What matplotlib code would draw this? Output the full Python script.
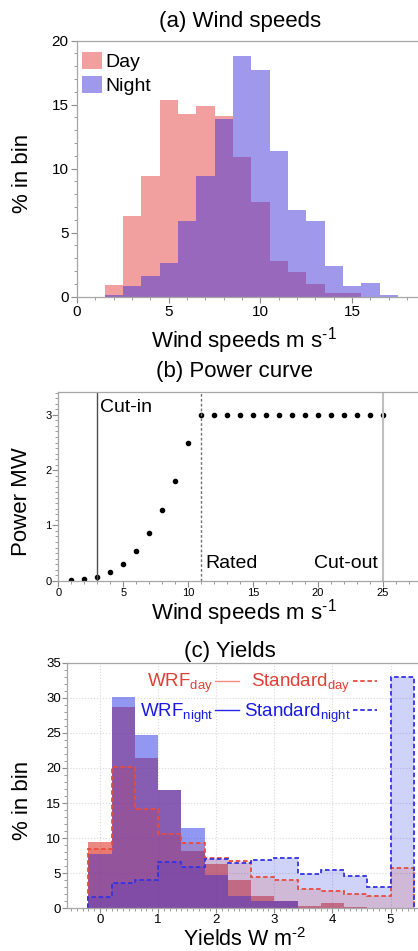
import matplotlib

matplotlib.use("Agg")
import matplotlib.pyplot as plt
from matplotlib.lines import Line2D
from matplotlib.patches import Patch
from matplotlib.ticker import MultipleLocator
import numpy as np

plt.rcParams['font.family'] = ['Liberation Sans', 'DejaVu Sans']
plt.rcParams['mathtext.fontset'] = 'custom'
plt.rcParams['mathtext.rm'] = 'Liberation Sans'
plt.rcParams['mathtext.it'] = 'Liberation Sans:italic'
plt.rcParams['mathtext.default'] = 'regular'

# (a) wind speed histograms, one bin per integer speed
ws_bins = list(range(2, 18))
day_pct = [0.9, 6.3, 9.4, 15.4, 14.3, 14.9, 14.1, 10.9, 7.4, 2.8, 1.9, 1.0, 0.3, 0.3, 0.0, 0.0]
night_pct = [0.1, 0.85, 1.65, 2.6, 5.9, 9.45, 13.9, 18.8, 17.7, 11.4, 6.8, 5.9, 2.4, 0.85, 1.1, 0.15]

# (b) turbine power curve
pc_speed = list(range(1, 26))
pc_power = [0.01, 0.03, 0.07, 0.16, 0.31, 0.54, 0.86, 1.28, 1.81, 2.49,
            3.0, 3.0, 3.0, 3.0, 3.0, 3.0, 3.0, 3.0, 3.0, 3.0, 3.0, 3.0, 3.0, 3.0, 3.0]
cut_in, rated, cut_out = 3, 11, 25

# (c) yield histograms
yield_edges = [-0.2, 0.2, 0.6, 1.0, 1.4, 1.8, 2.2, 2.6, 3.0, 3.4, 3.8, 4.2, 4.6, 5.0, 5.4]
wrf_day = [9.5, 28.7, 21.4, 16.9, 8.2, 6.3, 4.1, 1.75, 1.05, 0.35, 0.75, 0.25, 0.0, 0.0]
wrf_night = [7.7, 30.1, 24.7, 16.8, 11.5, 4.75, 1.75, 1.05, 1.05, 0.05, 0.05, 0.0, 0.0, 0.0]
std_day = [8.4, 20.2, 14.2, 10.6, 9.3, 7.2, 6.75, 4.4, 4.1, 2.8, 2.4, 2.1, 1.8, 5.8]
std_night = [1.6, 3.6, 4.0, 6.55, 5.9, 7.0, 6.4, 6.9, 7.1, 4.9, 5.4, 4.65, 3.05, 33.0]

W, H = 418, 951
fig = plt.figure(figsize=(W / 100, H / 100), dpi=100)


def px(x, y):
    return x / W, 1 - y / H


def add_axes(left, top, bottom):
    x0, y0 = px(left, bottom)
    return fig.add_axes([x0, y0, 1 - x0, (bottom - top) / H])


def style(ax, size, pad=2, major=4):
    for s in ['left', 'top', 'bottom']:
        ax.spines[s].set_color('0.65')
        ax.spines[s].set_linewidth(0.9)
    ax.spines['right'].set_visible(False)
    ax.tick_params(which='both', direction='out', color='0.55', labelsize=size, pad=pad)
    ax.tick_params(which='major', length=major)
    ax.tick_params(which='minor', length=2)


red = (0.85, 0.15, 0.1)
blue = (0.15, 0.2, 0.9)

# ---- Panel A
ax1 = add_axes(77, 40.7, 296.7)
edges = np.array(ws_bins + [ws_bins[-1] + 1]) - 0.5
day_col = (0.9, 0.25, 0.25)
night_col = (0.25, 0.2, 0.85)
ax1.stairs(day_pct, edges, fill=True, color=day_col, alpha=0.5, lw=0)
ax1.stairs(night_pct, edges, fill=True, color=night_col, alpha=0.5, lw=0)
ax1.set_xlim(0, 18.6)
ax1.set_ylim(0, 20)
ax1.xaxis.set_major_locator(MultipleLocator(5))
ax1.xaxis.set_minor_locator(MultipleLocator(1))
ax1.yaxis.set_major_locator(MultipleLocator(5))
ax1.yaxis.set_minor_locator(MultipleLocator(1))
style(ax1, 11)
ax1.legend([Patch(facecolor=day_col, alpha=0.5), Patch(facecolor=night_col, alpha=0.5)],
           ['Day', 'Night'], loc='upper left', bbox_to_anchor=(0.015, 0.955),
           frameon=False, fontsize=14, handlelength=1.0, handleheight=0.95,
           handletextpad=0.2, labelspacing=0.25, borderpad=0, borderaxespad=0)

# ---- Panel B
ax2 = add_axes(58.3, 391.7, 580.7)
ax2.plot(pc_speed, pc_power, 'o', ms=3, color='black')
ax2.axvline(cut_in, color='0.3', lw=1)
ax2.axvline(rated, color='0.45', lw=1, ls=(0, (2, 1.5)))
ax2.axvline(cut_out, color='0.75', lw=1.5)
ax2.text(cut_in + 0.2, 3.05, 'Cut-in', fontsize=14)
ax2.text(rated + 0.35, 0.23, 'Rated', fontsize=14)
ax2.text(cut_out - 0.4, 0.23, 'Cut-out', fontsize=14, ha='right')
ax2.set_xlim(0, 27.7)
ax2.set_ylim(0, 3.42)
ax2.xaxis.set_major_locator(MultipleLocator(5))
ax2.xaxis.set_minor_locator(MultipleLocator(1))
ax2.yaxis.set_major_locator(MultipleLocator(1))
ax2.yaxis.set_minor_locator(MultipleLocator(0.1))
style(ax2, 8, pad=1)

# ---- Panel C
ax3 = add_axes(66.7, 662.7, 908.3)
ax3.grid(True, which='major', color='0.85', ls=':', lw=0.8)
ax3.set_axisbelow(True)
ax3.stairs(wrf_day, yield_edges, fill=True, color=red, alpha=0.55, lw=0)
ax3.stairs(wrf_night, yield_edges, fill=True, color=blue, alpha=0.5, lw=0)
ax3.stairs(std_night, yield_edges, fill=True, color=blue, alpha=0.22, lw=0)
ax3.stairs(std_day, yield_edges, fill=True, color=red, alpha=0.15, lw=0)
ax3.stairs(std_day, yield_edges, baseline=0, color=(0.9, 0.3, 0.25),
           lw=1.3, ls=(0, (2.5, 1.5)))
ax3.stairs(std_night, yield_edges, baseline=0, color=(0.2, 0.2, 0.9),
           lw=1.3, ls=(0, (2.5, 1.5)))
ax3.set_xlim(-0.573, 5.473)
ax3.set_ylim(0, 35)
ax3.xaxis.set_major_locator(MultipleLocator(1))
ax3.xaxis.set_minor_locator(MultipleLocator(0.1))
ax3.yaxis.set_major_locator(MultipleLocator(5))
ax3.yaxis.set_minor_locator(MultipleLocator(1))
style(ax3, 9.5, pad=0.5, major=3.5)
handles = [Line2D([], [], color=(0.95, 0.55, 0.5), lw=1),
           Line2D([], [], color=(0.15, 0.15, 0.9), lw=1),
           Line2D([], [], color=(0.9, 0.3, 0.25), lw=1.3, ls=(0, (2.5, 1.5))),
           Line2D([], [], color=(0.2, 0.2, 0.9), lw=1.3, ls=(0, (2.5, 1.5)))]
labels = [r'WRF$_{day}$', r'WRF$_{night}$', r'Standard$_{day}$', r'Standard$_{night}$']
leg = ax3.legend(handles, labels, ncol=2, markerfirst=False, frameon=False,
                 fontsize=13.5, handlelength=1.3, handletextpad=0.1,
                 columnspacing=0.25, labelspacing=0.35, borderpad=0, borderaxespad=0,
                 loc='upper right', bbox_to_anchor=(0.883, 0.962),
                 labelcolor=[(0.88, 0.25, 0.2), (0.1, 0.1, 0.9),
                             (0.88, 0.25, 0.2), (0.1, 0.1, 0.9)])

# ---- titles and axis labels placed in figure pixels
def ftext(x, y, s, size=16, **kw):
    fig.text(*px(x, y), s, fontsize=size, **kw)

ftext(240.5, 27, '(a) Wind speeds', ha='center', va='baseline')
ftext(244, 347, r'Wind speeds m s$^{\text{-}1}$', ha='center', va='baseline')
ftext(235, 376.7, '(b) Power curve', ha='center', va='baseline')
ftext(244, 619, r'Wind speeds m s$^{\text{-}1}$', ha='center', va='baseline')
ftext(230, 656.7, '(c) Yields', ha='center', va='baseline')
ftext(245, 950.6, r'Yields W m$^{\text{-}2}$', size=15.5, ha='center', va='bottom')
ftext(22, 173, '% in bin', rotation=90, ha='center', va='center')
ftext(22, 502, 'Power MW', rotation=90, ha='center', va='center')
ftext(22, 800, '% in bin', rotation=90, ha='center', va='center')

fig.savefig('out.png', dpi=100)
